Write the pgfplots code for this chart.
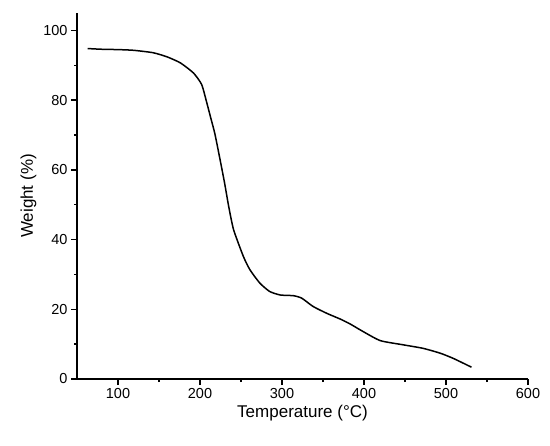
\documentclass[border=0pt]{standalone}
\usepackage{fontspec}
\setmainfont{Liberation Sans}
\usepackage{pgfplots}
\pgfplotsset{compat=1.18}
\begin{document}
\begin{tikzpicture}
\begin{axis}[
  scale only axis,
  width=451pt, height=366pt,
  xmin=50, xmax=600, ymin=0, ymax=105,
  axis x line=bottom, axis y line=left,
  axis line style={-, line width=1.6pt},
  xtick={100,200,300,400,500,600},
  ytick={0,20,40,60,80,100},
  minor x tick num=1, minor y tick num=1,
  tick align=outside,
  major tick length=6pt, minor tick length=3pt,
  every tick/.style={black, line width=1.4pt},
  tick label style={font=\fontsize{14.5}{16}\selectfont},
  /pgf/number format/assume math mode=true,
  xlabel={Temperature (°C)}, ylabel={Weight (\%)},
  label style={font=\fontsize{17}{20}\selectfont},
  xlabel style={yshift=0pt},
]
\addplot[black, line width=1.5pt, smooth, tension=0.35] coordinates {
(63,94.8) (80,94.6) (100,94.5) (119,94.3) (143,93.6) (160,92.4) (176,90.7)
(192,87.8) (202,84.5) (208,79.5) (213,75) (218,70.5) (224,63.5) (230,56.2) (235,49.5)
(241,42.8) (253,35.1) (261,31.3) (273,27.5) (285,25.1) (298,24.1) (314,23.9)
(324,23.2) (338,20.8) (355,18.8) (371,17.2) (383,15.8) (399,13.6) (420,11)
(448,9.8) (472,8.8) (493,7.4) (509,5.9) (531,3.4)
};
\end{axis}
\path ([xshift=-77pt,yshift=-66pt]current axis.south west) rectangle ([xshift=22pt,yshift=13pt]current axis.north east);
\end{tikzpicture}
\end{document}
